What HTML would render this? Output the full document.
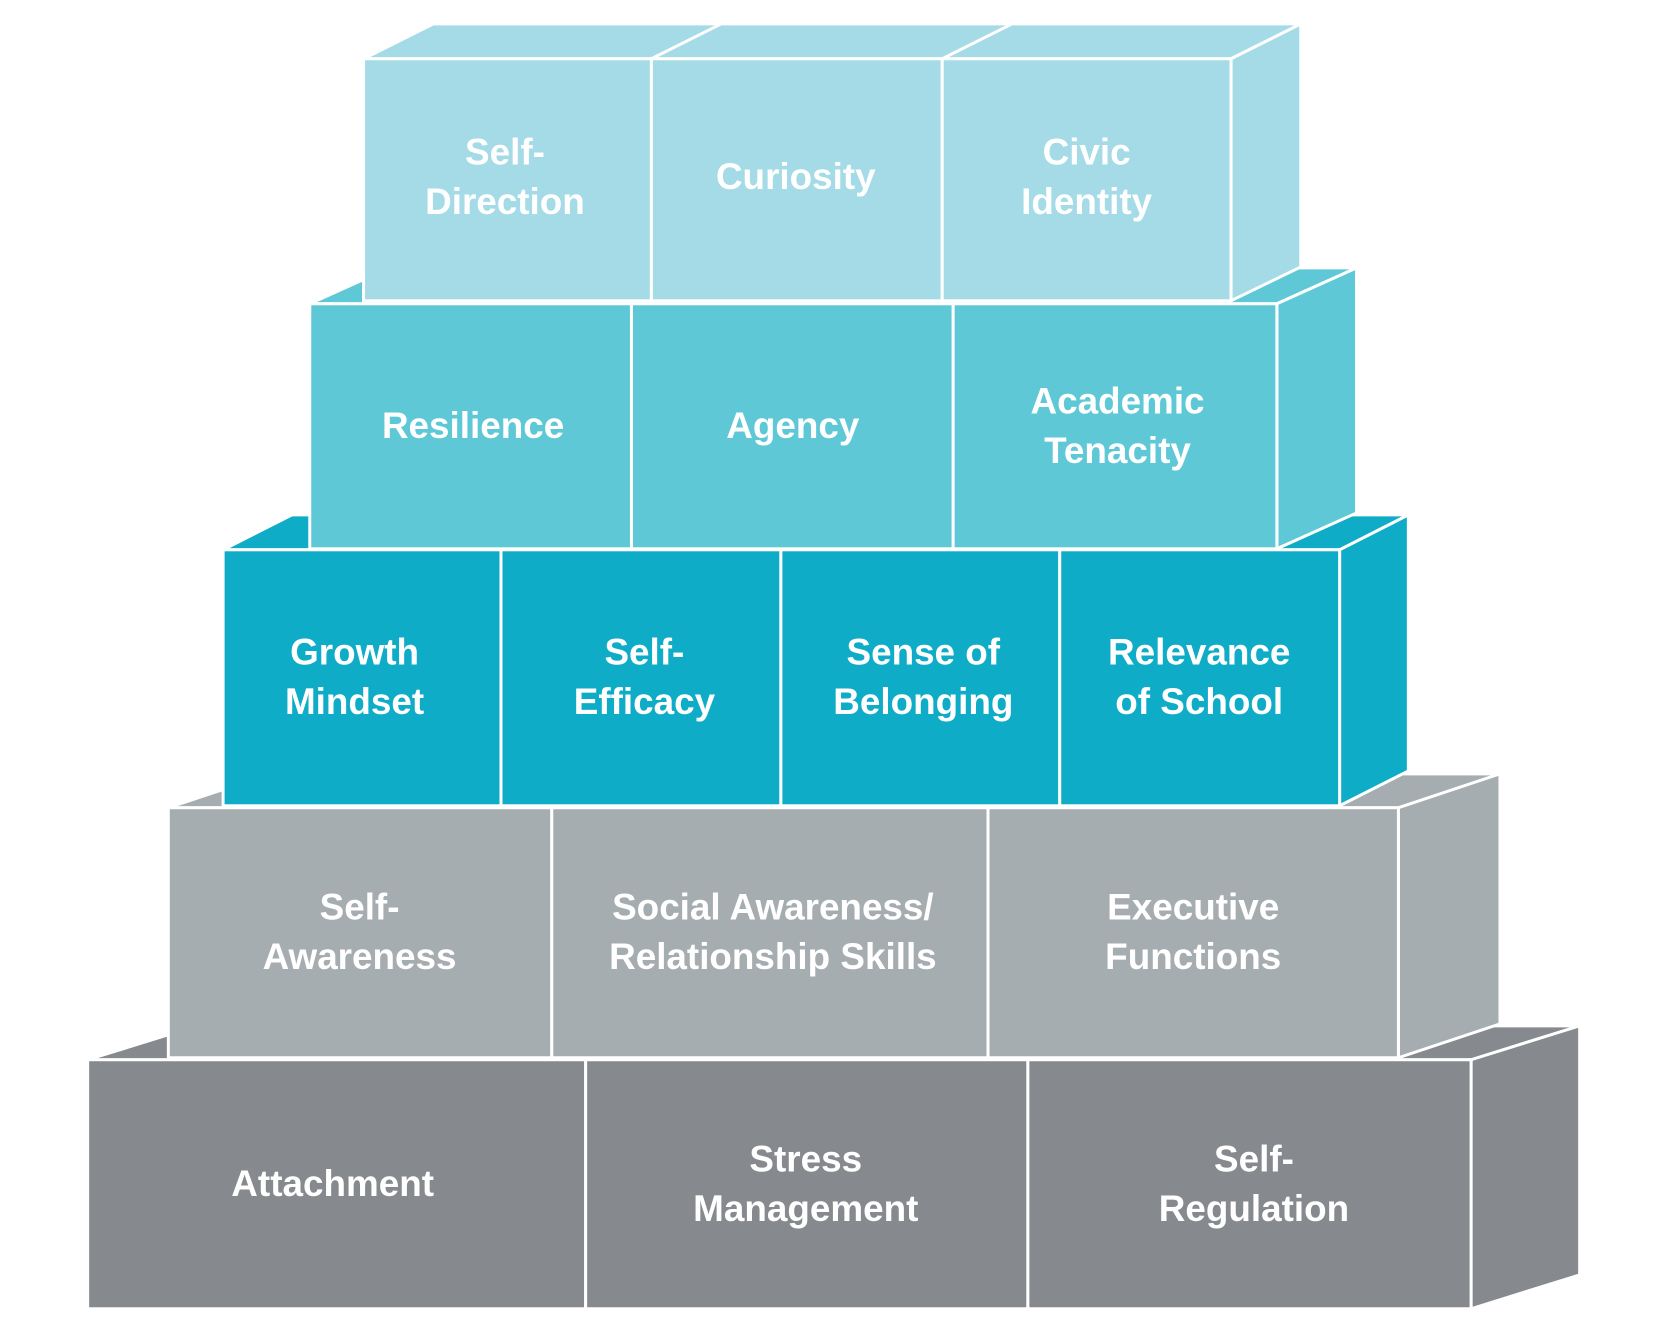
<!DOCTYPE html>
<html><head><meta charset="utf-8"><style>
html,body{margin:0;padding:0;background:#fff}
svg{display:block}
text{font-family:"Liberation Sans",sans-serif;font-weight:bold;font-size:37px;fill:#fff;text-anchor:middle}
</style></head><body>
<svg width="1667" height="1333" viewBox="0 0 1667 1333" xmlns="http://www.w3.org/2000/svg">
<g transform="scale(0.996)">
<g stroke="#fff" stroke-width="3" stroke-linejoin="miter">
<g fill="#868A8E">
<polygon points="88,1064 198,1030 1586,1030 1477,1064"/>
<polygon points="1477,1064 1586,1030 1586,1280 1477,1314"/>
<rect x="88" y="1064" width="500" height="250"/>
<rect x="588" y="1064" width="444" height="250"/>
<rect x="1032" y="1064" width="445" height="250"/>
</g>
<g fill="#A6ADB1">
<polygon points="169,811 271,777 1506,777 1404,811"/>
<polygon points="1404,811 1506,777 1506,1028 1404,1062"/>
<rect x="169" y="811" width="385" height="251"/>
<rect x="554" y="811" width="438" height="251"/>
<rect x="992" y="811" width="412" height="251"/>
</g>
<g fill="#0FACC8">
<polygon points="224,552 293,517 1414,517 1345,552"/>
<polygon points="1345,552 1414,517 1414,774 1345,809"/>
<rect x="224" y="552" width="279" height="257"/>
<rect x="503" y="552" width="281" height="257"/>
<rect x="784" y="552" width="280" height="257"/>
<rect x="1064" y="552" width="281" height="257"/>
</g>
<g fill="#5FC8D6">
<polygon points="311,305 391,269 1362,269 1282,305"/>
<polygon points="1282,305 1362,269 1362,515 1282,551"/>
<rect x="311" y="305" width="323" height="246"/>
<rect x="634" y="305" width="323" height="246"/>
<rect x="957" y="305" width="325" height="246"/>
</g>
<g fill="#A4DBE7">
<polygon points="365,59 435,24 1306,24 1236,59"/>
<polygon points="1236,59 1306,24 1306,268 1236,302"/>
<line x1="654" y1="59" x2="724" y2="24"/>
<line x1="946" y1="59" x2="1016" y2="24"/>
<rect x="365" y="59" width="289" height="243"/>
<rect x="654" y="59" width="292" height="243"/>
<rect x="946" y="59" width="290" height="243"/>
</g>
</g>
<text x="507" y="165">Self-</text><text x="507" y="215">Direction</text>
<text x="799" y="190">Curiosity</text>
<text x="1091" y="165">Civic</text><text x="1091" y="215">Identity</text>
<text x="475" y="440">Resilience</text>
<text x="796" y="440">Agency</text>
<text x="1122" y="415">Academic</text><text x="1122" y="465">Tenacity</text>
<text x="356" y="667">Growth</text><text x="356" y="717">Mindset</text>
<text x="647" y="667">Self-</text><text x="647" y="717">Efficacy</text>
<text x="927" y="667">Sense of</text><text x="927" y="717">Belonging</text>
<text x="1204" y="667">Relevance</text><text x="1204" y="717">of School</text>
<text x="361" y="923">Self-</text><text x="361" y="973">Awareness</text>
<text x="776" y="923">Social Awareness/</text><text x="776" y="973">Relationship Skills</text>
<text x="1198" y="923">Executive</text><text x="1198" y="973">Functions</text>
<text x="334" y="1201">Attachment</text>
<text x="809" y="1176">Stress</text><text x="809" y="1226">Management</text>
<text x="1259" y="1176">Self-</text><text x="1259" y="1226">Regulation</text>
</g>
</svg>
</body></html>
